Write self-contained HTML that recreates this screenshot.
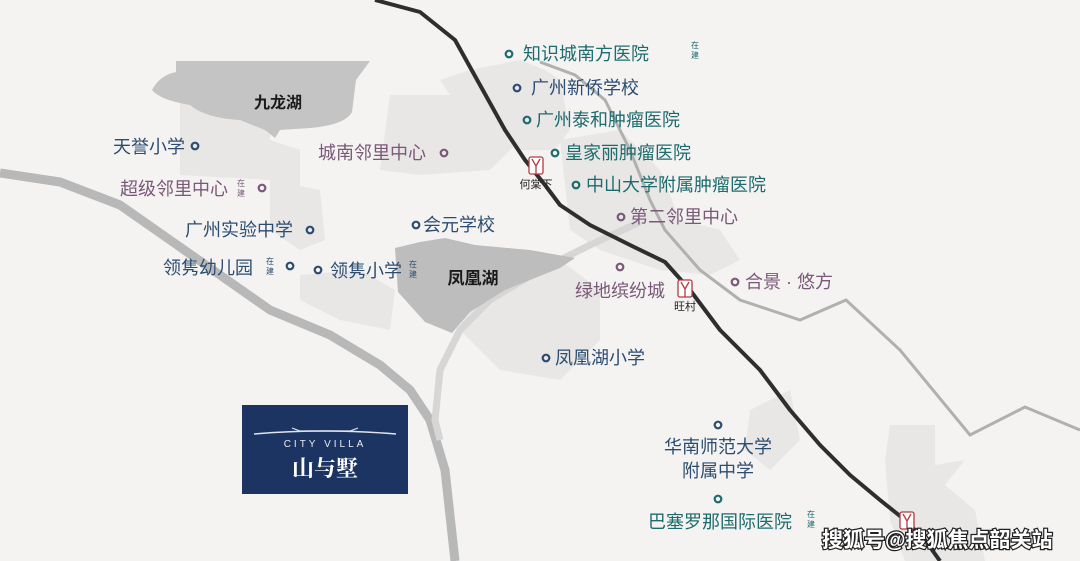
<!DOCTYPE html>
<html><head><meta charset="utf-8"><style>
html,body{margin:0;padding:0;background:#f4f3f2}
svg{display:block}
text{font-family:"Liberation Sans","Noto Sans CJK SC",sans-serif}
.b{fill:#2c4d70;font-size:18px}
.t{fill:#1e6b6e;font-size:18px}
.p{fill:#7a5878;font-size:18px}
</style></head><body>
<svg width="1080" height="561" viewBox="0 0 1080 561" xmlns="http://www.w3.org/2000/svg">
<rect width="1080" height="561" fill="#f4f3f2"/>
<g fill="#e8e7e6">
<polygon points="180,100 270,100 270,140 300,150 300,200 270,200 270,180 180,175"/>
<polygon points="270,180 320,190 325,240 300,250 270,230"/>
<polygon points="390,95 500,95 520,140 490,170 420,175 380,170"/>
<polygon points="440,80 470,70 520,60 545,70 560,80 570,130 555,150 520,150 480,140"/>
<polygon points="560,140 620,130 660,170 680,220 720,230 740,260 710,275 660,270 600,250 570,230"/>
<polygon points="470,260 560,260 600,290 600,340 560,380 500,370 460,330"/>
<polygon points="300,275 360,270 395,290 390,330 340,320 300,300"/>
<polygon points="750,410 790,390 800,440 770,470 745,450"/>
<polygon points="890,425 935,425 935,465 965,460 945,485 975,510 985,561 905,561 890,520 885,460"/>
</g>
<polyline points="0,173 60,182 120,205 170,240 220,275 270,310 330,335 380,365 410,390 430,420 445,470 455,561" fill="none" stroke="#b8b8b8" stroke-width="9" stroke-linejoin="round"/>
<polyline points="640,222 590,245 540,270 490,300 460,330 440,370 435,420 440,440" fill="none" stroke="#d6d6d6" stroke-width="7"/>
<polyline points="540,62 575,75 605,100 630,150 650,200 665,230 700,270 740,300 800,320 846,300 900,350 970,435 1025,407 1080,430" fill="none" stroke="#b0b0b0" stroke-width="3"/>
<path d="M176,61 L370,61 L356,80 L352,112 Q345,125 310,128 L280,130 L275,138 L265,130 L240,120 Q205,118 190,105 Q160,100 152,90 Q160,75 176,72 Z" fill="#c4c4c4"/>
<path d="M395,248 L420,242 L445,238 L475,245 L530,250 L575,258 L560,268 L505,290 L470,312 L452,333 L425,322 L398,292 Z" fill="#bdbdbd"/>
<polyline points="375,0 420,12 455,40 480,85 505,130 525,160 545,185 560,205 590,225 630,245 665,262 690,290 720,330 760,370 790,410 820,445 850,475 880,500 905,520 925,540 940,561" fill="none" stroke="#2e2e2e" stroke-width="4" stroke-linejoin="round"/>
<g fill="#fff" stroke="#b33a3f" stroke-width="1.3">
<rect x="529" y="157" width="14" height="17" rx="2"/>
<rect x="678" y="280" width="14" height="17" rx="2"/>
<rect x="900" y="512" width="14" height="17" rx="2"/>
</g>
<g fill="none" stroke="#b33a3f" stroke-width="1.3">
<path d="M532,159 L536,166 L536,174 M540,159 L536,166"/>
<path d="M681,282 L685,289 L685,297 M689,282 L685,289"/>
<path d="M903,514 L907,521 L907,529 M911,514 L907,521"/>
</g>
<text x="536" y="188" font-size="11" fill="#222" text-anchor="middle">何棠下</text>
<text x="685" y="310" font-size="11" fill="#222" text-anchor="middle">旺村</text>
<text x="278" y="108" font-size="16" font-weight="bold" fill="#1a1a1a" text-anchor="middle">九龙湖</text>
<text x="473" y="284" font-size="17" font-weight="bold" fill="#1a1a1a" text-anchor="middle">凤凰湖</text>
<g fill="none" stroke-width="2.2">
<g stroke="#1e6b6e"><circle cx="509" cy="54" r="3.3"/><circle cx="527" cy="120" r="3.3"/><circle cx="555" cy="153" r="3.3"/><circle cx="576" cy="185" r="3.3"/><circle cx="718" cy="499" r="3.3"/></g>
<g stroke="#2c4d70"><circle cx="517" cy="88" r="3.3"/><circle cx="546" cy="358" r="3.3"/><circle cx="718" cy="425" r="3.3"/><circle cx="195" cy="146" r="3.3"/><circle cx="310" cy="230" r="3.3"/><circle cx="416" cy="225" r="3.3"/><circle cx="290" cy="266" r="3.3"/><circle cx="318" cy="270" r="3.3"/></g>
<g stroke="#7a5878"><circle cx="621" cy="217" r="3.3"/><circle cx="620" cy="267" r="3.3"/><circle cx="735" cy="282" r="3.3"/><circle cx="444" cy="153" r="3.3"/><circle cx="262" cy="188" r="3.3"/></g>
</g>
<g dominant-baseline="central">
<text x="523" y="54" class="t">知识城南方医院</text>
<text x="531" y="88" class="b">广州新侨学校</text>
<text x="536" y="120" class="t">广州泰和肿瘤医院</text>
<text x="565" y="153" class="t">皇家丽肿瘤医院</text>
<text x="586" y="185" class="t">中山大学附属肿瘤医院</text>
<text x="630" y="217" class="p">第二邻里中心</text>
<text x="620" y="291" class="p" text-anchor="middle">绿地缤纷城</text>
<text x="745" y="282" class="p">合景 · 悠方</text>
<text x="555" y="358" class="b">凤凰湖小学</text>
<text x="718" y="447" class="b" text-anchor="middle">华南师范大学</text>
<text x="718" y="471" class="b" text-anchor="middle">附属中学</text>
<text x="720" y="522" class="t" text-anchor="middle">巴塞罗那国际医院</text>
<text x="185" y="147" class="b" text-anchor="end">天誉小学</text>
<text x="318" y="153" class="p">城南邻里中心</text>
<text x="120" y="189" class="p">超级邻里中心</text>
<text x="185" y="230" class="b">广州实验中学</text>
<text x="423" y="225" class="b">会元学校</text>
<text x="163" y="268" class="b">领隽幼儿园</text>
<text x="330" y="271" class="b" textLength="72">领隽小学</text>
</g>
<g font-size="8">
<text x="695" y="48" fill="#1e6b6e" text-anchor="middle">在</text><text x="695" y="58" fill="#1e6b6e" text-anchor="middle">建</text>
<text x="241" y="186" fill="#7a5878" text-anchor="middle">在</text><text x="241" y="196" fill="#7a5878" text-anchor="middle">建</text>
<text x="270" y="264" fill="#2c4d70" text-anchor="middle">在</text><text x="270" y="274" fill="#2c4d70" text-anchor="middle">建</text>
<text x="413" y="267" fill="#2c4d70" text-anchor="middle">在</text><text x="413" y="277" fill="#2c4d70" text-anchor="middle">建</text>
<text x="811" y="517" fill="#1e6b6e" text-anchor="middle">在</text><text x="811" y="527" fill="#1e6b6e" text-anchor="middle">建</text>
</g>
<rect x="242" y="405" width="166" height="89" fill="#1c3461"/>
<path d="M254,434 Q325,428 396,434" stroke="#dfe4ee" stroke-width="1.4" fill="none"/>
<path d="M292,428 L300,431 L350,431 L358,428" stroke="#dfe4ee" stroke-width="1.2" fill="none"/>
<text x="325" y="447" font-size="10" fill="#e8ecf3" text-anchor="middle" letter-spacing="3">CITY VILLA</text>
<text x="325" y="476" font-size="22" font-weight="bold" fill="#fff" text-anchor="middle" style="font-family:'Noto Serif CJK SC',serif">山与墅</text>
<text x="822" y="547" font-size="21" font-weight="bold" fill="#fff" stroke="#222" stroke-width="2.5" paint-order="stroke">搜狐号@搜狐焦点韶关站</text>
</svg>
</body></html>
